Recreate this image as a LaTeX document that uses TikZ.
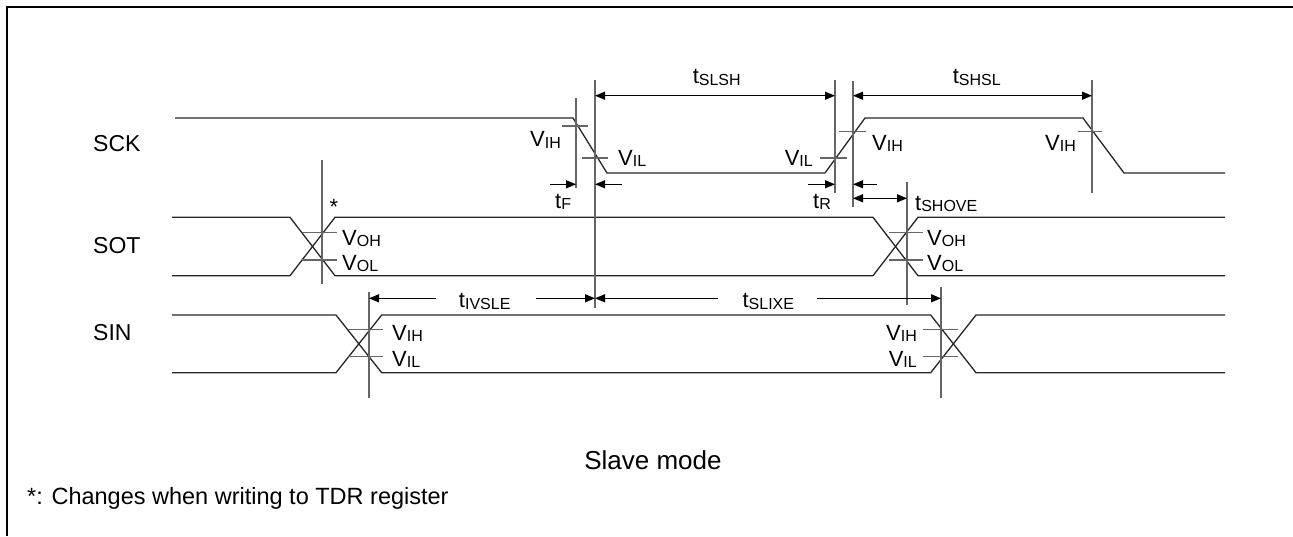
\documentclass[tikz,border=0pt]{standalone}
\usepackage{fontspec}
\setmainfont{Liberation Sans}
\usetikzlibrary{arrows.meta}
\newcommand\tlab[2]{{\fontsize{22}{26}\selectfont #1}\raisebox{-1.7pt}{\fontsize{16}{18}\selectfont #2}}
\tikzset{
 wave/.style={line width=1.3pt, black!85},
 guide/.style={line width=1.6pt, black!60},
 tickln/.style={line width=1.3pt, black!60},
 dimone/.style={line width=1.2pt, black, -{Triangle[length=10pt,width=8pt]}},
 dimtwo/.style={line width=1.2pt, black, {Triangle[length=10pt,width=8pt]}-{Triangle[length=10pt,width=8pt]}},
 lbl/.style={inner sep=0pt},
 signame/.style={inner sep=0pt, font=\fontsize{23}{27}\selectfont},
}
\begin{document}
\begin{tikzpicture}[x=1pt,y=-1pt]
\useasboundingbox (0,0) rectangle (1293,536);
% frame
\draw[line width=2pt] (6.7,536) -- (6.7,7.3) -- (1293,7.3);

% ---------- named coordinates ----------
% guides
\coordinate (g1t) at (576,98);   \coordinate (g1b) at (576,188);
\coordinate (g2t) at (595,80);   \coordinate (g2b) at (595,308);
\coordinate (g3t) at (835,80);   \coordinate (g3b) at (835,193);
\coordinate (g4t) at (853,81);   \coordinate (g4b) at (853,207);
\coordinate (g5t) at (1092,80);  \coordinate (g5b) at (1092,193);
\coordinate (g6t) at (907,182);  \coordinate (g6b) at (907,305);
\coordinate (g7t) at (322,160);  \coordinate (g7b) at (322,284);
\coordinate (g8t) at (369,292);  \coordinate (g8b) at (369,398);
\coordinate (g9t) at (941,287);  \coordinate (g9b) at (941,398);

% ---------- waveforms ----------
% SCK
\draw[wave] (175,118) -- (573,118) -- (607,173) -- (825,173) -- (865,118) -- (1083,118) -- (1124,173) -- (1225,173);
% SOT
\draw[wave] (172,217.3) -- (290,217.3) -- (335,275.7) -- (873,275.7) -- (918,217.3) -- (1225,217.3);
\draw[wave] (172,275.7) -- (290,275.7) -- (335,217.3) -- (873,217.3) -- (918,275.7) -- (1225,275.7);
% SIN
\draw[wave] (172,315) -- (336,315) -- (381.7,372.7) -- (930.7,372.7) -- (976,315) -- (1225,315);
\draw[wave] (172,372.7) -- (336,372.7) -- (381.7,315) -- (930.7,315) -- (976,372.7) -- (1225,372.7);

% ---------- guides ----------
\foreach \g in {1,...,9} \draw[guide] (g\g t) -- (g\g b);

% ---------- threshold ticks ----------
\draw[tickln] (562,126) -- (588,126);
\draw[tickln] (582,158) -- (608,158);
\draw[tickln] (820,158) -- (847,158);
\draw[tickln] (839,131.7) -- (866,131.7);
\draw[tickln] (1078,131.7) -- (1102,131.7);
\draw[tickln] (302,232.7) -- (337,232.7);
\draw[tickln] (302,260) -- (337,260);
\draw[tickln] (889,232.7) -- (923,232.7);
\draw[tickln] (889,260) -- (923,260);
\draw[tickln] (348,329.3) -- (383,329.3);
\draw[tickln] (348,356.7) -- (383,356.7);
\draw[tickln] (923,329.3) -- (958,329.3);
\draw[tickln] (923,356.7) -- (958,356.7);

% ---------- dimension arrows ----------
\coordinate (slshL) at (595,95.7);  \coordinate (slshR) at (835,95.7);
\coordinate (shslL) at (853,95.7);  \coordinate (shslR) at (1092,95.7);
\draw[dimtwo] (slshL) -- (slshR);
\draw[dimtwo] (shslL) -- (shslR);
\coordinate (tfA) at (550,184.3); \coordinate (tfB) at (576,184.3);
\coordinate (tfC) at (622,184.3); \coordinate (tfD) at (595,184.3);
\draw[dimone] (tfA) -- (tfB);
\draw[dimone] (tfC) -- (tfD);
\coordinate (trA) at (808,184.3); \coordinate (trB) at (835,184.3);
\coordinate (trC) at (877,184.3); \coordinate (trD) at (853,184.3);
\draw[dimone] (trA) -- (trB);
\draw[dimone] (trC) -- (trD);
\coordinate (shoL) at (853,198.3); \coordinate (shoR) at (907,198.3);
\draw[dimtwo] (shoL) -- (shoR);
\coordinate (ivA) at (436,298.3); \coordinate (ivB) at (369,298.3);
\coordinate (ivC) at (536,298.3); \coordinate (ivD) at (595,298.3);
\draw[dimone] (ivA) -- (ivB);
\draw[dimone] (ivC) -- (ivD);
\coordinate (slA) at (718,298.3); \coordinate (slB) at (595,298.3);
\coordinate (slC) at (817,298.3); \coordinate (slD) at (941,298.3);
\draw[dimone] (slA) -- (slB);
\draw[dimone] (slC) -- (slD);

% ---------- timing labels ----------
\node[lbl, anchor=base] (lslsh) at (716.7,83.3) {\tlab{t}{SLSH}};
\node[lbl, anchor=base] (lshsl) at (976.7,83.3) {\tlab{t}{SHSL}};
\node[lbl, anchor=base west] (ltf) at (555,208) {\tlab{t}{F}};
\node[lbl, anchor=base west] (ltr) at (813,208) {\tlab{t}{R}};
\node[lbl, anchor=base west] (lsho) at (915,210) {\tlab{t}{SHOVE}};
\node[lbl, anchor=base] (liv) at (484.7,307.7) {\tlab{t}{IVSLE}};
\node[lbl, anchor=base] (lsl) at (768.3,307.7) {\tlab{t}{SLIXE}};

% ---------- level labels ----------
\node[lbl, anchor=base east] (v1) at (561,146.7) {\tlab{V}{IH}};
\node[lbl, anchor=base west] (v2) at (618,165) {\tlab{V}{IL}};
\node[lbl, anchor=base east] (v3) at (813,165) {\tlab{V}{IL}};
\node[lbl, anchor=base west] (v4) at (872,150) {\tlab{V}{IH}};
\node[lbl, anchor=base east] (v5) at (1076,150) {\tlab{V}{IH}};
\node[lbl, anchor=base west] (v6) at (342,245) {\tlab{V}{OH}};
\node[lbl, anchor=base west] (v7) at (342,270) {\tlab{V}{OL}};
\node[lbl, anchor=base west] (v8) at (927,245) {\tlab{V}{OH}};
\node[lbl, anchor=base west] (v9) at (927,270) {\tlab{V}{OL}};
\node[lbl, anchor=base west] (v10) at (392,340) {\tlab{V}{IH}};
\node[lbl, anchor=base west] (v11) at (392,366) {\tlab{V}{IL}};
\node[lbl, anchor=base east] (v12) at (917,340) {\tlab{V}{IH}};
\node[lbl, anchor=base east] (v13) at (917,366) {\tlab{V}{IL}};

% star
\node[lbl, anchor=base, font=\fontsize{22}{26}\selectfont] (star) at (334,214.5) {*};

% ---------- signal names ----------
\node[signame, anchor=base west] (sck) at (93,151.7) {SCK};
\node[signame, anchor=base west] (sot) at (93,253.5) {SOT};
\node[signame, anchor=base west] (sin) at (93,340.5) {SIN};

% ---------- captions ----------
\node[lbl, anchor=base, font=\fontsize{26}{30}\selectfont] (cap) at (653,469) {Slave mode};
\node[lbl, anchor=base west, font=\fontsize{23.5}{28}\selectfont] (note) at (27,504) {*: Changes when writing to TDR register};
\end{tikzpicture}
\end{document}
